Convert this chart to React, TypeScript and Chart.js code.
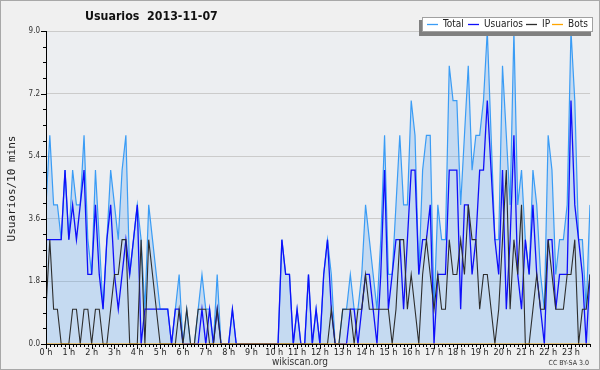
import React, { useEffect, useRef } from "react";
import { Chart, registerables } from "chart.js";

Chart.register(...registerables);

const titleText = "Usuarios  2013-11-07";
const yAxisTitle = "Usuarios/10 mins";
const footerText = "wikiscan.org";
const licenseText = "CC BY-SA 3.0";

const hourLabels = [
  "0 h", "1 h", "2 h", "3 h", "4 h", "5 h", "6 h", "7 h", "8 h", "9 h", "10 h", "11 h",
  "12 h", "13 h", "14 h", "15 h", "16 h", "17 h", "18 h", "19 h", "20 h", "21 h", "22 h", "23 h",
];
const yTickLabels = ["0.0", "1.8", "3.6", "5.4", "7.2", "9.0"];
const seriesNames = ["Total", "Usuarios", "IP", "Bots"];

// one value per 10 minutes (144 slots)
const total = [
  4, 6, 4, 4, 3, 5, 3, 5, 4, 4, 6, 3,
  2, 5, 3, 1, 3, 5, 4, 3, 5, 6, 2, 3,
  4, 3, 1, 4, 3, 2, 1, 1, 1, 0, 1, 2,
  0, 1, 0, 0, 1, 2, 1, 1, 0, 2, 0, 0,
  0, 1, 0, 0, 0, 0, 0, 0, 0, 0, 0, 0,
  0, 0, 3, 2, 2, 0, 1, 0, 0, 2, 0, 1,
  0, 2, 3, 2, 0, 0, 1, 1, 2, 1, 1, 2,
  4, 3, 2, 1, 3, 6, 2, 2, 4, 6, 4, 4,
  7, 6, 2, 5, 6, 6, 1, 4, 3, 3, 8, 7,
  7, 4, 6, 8, 5, 6, 6, 7, 9, 6, 3, 3,
  8, 6, 4, 9, 4, 5, 3, 2, 5, 4, 2, 1,
  6, 5, 2, 3, 3, 4, 9, 7, 3, 3, 1, 4,
];
const usuarios = [
  3, 3, 3, 3, 3, 5, 3, 4, 3, 4, 5, 2,
  2, 4, 2, 1, 3, 4, 2, 1, 2, 3, 2, 3,
  4, 0, 1, 1, 1, 1, 1, 1, 1, 0, 1, 1,
  0, 0, 0, 0, 0, 1, 0, 1, 0, 1, 0, 0,
  0, 1, 0, 0, 0, 0, 0, 0, 0, 0, 0, 0,
  0, 0, 3, 2, 2, 0, 1, 0, 0, 2, 0, 1,
  0, 2, 3, 1, 0, 0, 0, 0, 1, 1, 0, 1,
  2, 2, 1, 0, 2, 5, 1, 2, 3, 3, 1, 3,
  5, 5, 2, 3, 3, 4, 0, 2, 2, 2, 5, 5,
  5, 1, 4, 4, 2, 3, 5, 5, 7, 5, 3, 2,
  5, 1, 3, 6, 2, 1, 3, 2, 4, 2, 1, 0,
  3, 3, 1, 2, 2, 2, 7, 4, 3, 2, 0, 2,
];
const ip = [
  1, 3, 1, 1, 0, 0, 0, 1, 1, 0, 1, 1,
  0, 1, 1, 0, 0, 1, 2, 2, 3, 3, 0, 0,
  0, 3, 0, 3, 2, 1, 0, 0, 0, 0, 0, 1,
  0, 1, 0, 0, 1, 1, 1, 0, 0, 1, 0, 0,
  0, 0, 0, 0, 0, 0, 0, 0, 0, 0, 0, 0,
  0, 0, 0, 0, 0, 0, 0, 0, 0, 0, 0, 0,
  0, 0, 0, 1, 0, 0, 1, 1, 1, 0, 1, 1,
  2, 1, 1, 1, 1, 1, 1, 0, 1, 3, 3, 1,
  2, 1, 0, 2, 3, 2, 1, 2, 1, 1, 3, 2,
  2, 3, 2, 4, 3, 3, 1, 2, 2, 1, 0, 1,
  3, 5, 1, 3, 2, 4, 0, 0, 1, 2, 1, 1,
  3, 2, 1, 1, 1, 2, 2, 3, 0, 1, 1, 2,
];
const bots = [
  0, 0, 0, 0, 0, 0, 0, 0, 0, 0, 0, 0,
  0, 0, 0, 0, 0, 0, 0, 0, 0, 0, 0, 0,
  0, 0, 0, 0, 0, 0, 0, 0, 0, 0, 0, 0,
  0, 0, 0, 0, 0, 0, 0, 0, 0, 0, 0, 0,
  0, 0, 0, 0, 0, 0, 0, 0, 0, 0, 0, 0,
  0, 0, 0, 0, 0, 0, 0, 0, 0, 0, 0, 0,
  0, 0, 0, 0, 0, 0, 0, 0, 0, 0, 0, 0,
  0, 0, 0, 0, 0, 0, 0, 0, 0, 0, 0, 0,
  0, 0, 0, 0, 0, 0, 0, 0, 0, 0, 0, 0,
  0, 0, 0, 0, 0, 0, 0, 0, 0, 0, 0, 0,
  0, 0, 0, 0, 0, 0, 0, 0, 0, 0, 0, 0,
  0, 0, 0, 0, 0, 0, 0, 0, 0, 0, 0, 0,
];

const COLORS = {
  total: "rgb(58,156,245)",
  totalFill: "rgba(60,150,240,0.22)",
  usuarios: "rgb(15,15,250)",
  ip: "rgb(45,45,45)",
  bots: "rgb(255,165,0)",
};

const SANS = '"DejaVu Sans Condensed", "DejaVu Sans", sans-serif';
const MONO = '"DejaVu Sans Mono", monospace';

const toPoints = (arr: number[]) => arr.map((v, i) => ({ x: i, y: v }));

const decorPlugin = {
  id: "decor",
  beforeDraw(chart: any) {
    const { ctx, chartArea } = chart;
    const W = chart.width;
    const H = chart.height;
    ctx.save();
    ctx.fillStyle = "#f0f0f0";
    ctx.fillRect(0, 0, W, H);
    ctx.strokeStyle = "#a8a8a8";
    ctx.lineWidth = 1;
    ctx.strokeRect(0.5, 0.5, W - 1, H - 1);
    ctx.fillStyle = "#eceef1";
    ctx.fillRect(chartArea.left, chartArea.top, chartArea.right - chartArea.left, chartArea.bottom - chartArea.top);
    ctx.restore();
  },
  afterDraw(chart: any) {
    const { ctx, chartArea } = chart;
    const xs = chart.scales.x;
    const ys = chart.scales.y;
    const L = chartArea.left;
    const B = chartArea.bottom;
    ctx.save();

    // axes
    ctx.strokeStyle = "#000";
    ctx.lineWidth = 1;
    ctx.beginPath();
    ctx.moveTo(Math.round(L) + 0.5, chartArea.top);
    ctx.lineTo(Math.round(L) + 0.5, Math.round(B) + 0.5);
    ctx.lineTo(chartArea.right, Math.round(B) + 0.5);
    ctx.stroke();

    // y ticks (major at labels, 3 minor between)
    ctx.beginPath();
    for (let k = 0; k < yTickLabels.length; k++) {
      const v0 = parseFloat(yTickLabels[k]);
      const py = Math.round(ys.getPixelForValue(v0)) + 0.5;
      ctx.moveTo(L - 5, py);
      ctx.lineTo(L, py);
      if (k < yTickLabels.length - 1) {
        const v1 = parseFloat(yTickLabels[k + 1]);
        for (let m = 1; m < 4; m++) {
          const pm = Math.round(ys.getPixelForValue(v0 + ((v1 - v0) * m) / 4)) + 0.5;
          ctx.moveTo(L - 3, pm);
          ctx.lineTo(L, pm);
        }
      }
    }
    // x ticks: each 10-minute slot, longer at hours
    for (let i = 0; i < total.length; i++) {
      const px = Math.round(xs.getPixelForValue(i)) + 0.5;
      ctx.moveTo(px, B);
      ctx.lineTo(px, B + (i % 6 === 0 ? 5 : 3));
    }
    ctx.stroke();

    // y tick labels
    ctx.fillStyle = "#333";
    ctx.font = `8px ${SANS}`;
    ctx.textAlign = "right";
    ctx.textBaseline = "middle";
    yTickLabels.forEach((t) => {
      ctx.fillText(t, L - 6, ys.getPixelForValue(parseFloat(t)));
    });

    // x tick labels
    ctx.font = `9px ${SANS}`;
    ctx.fillStyle = "#222";
    ctx.textAlign = "center";
    ctx.textBaseline = "top";
    hourLabels.forEach((t, h) => {
      ctx.fillText(t, xs.getPixelForValue(h * 6), B + 4);
    });

    // y axis title
    ctx.save();
    ctx.translate(12, (chartArea.top + B) / 2 + 1);
    ctx.rotate(-Math.PI / 2);
    ctx.font = `11px ${MONO}`;
    ctx.fillStyle = "#222";
    ctx.textAlign = "center";
    ctx.textBaseline = "middle";
    ctx.fillText(yAxisTitle, 0, 0);
    ctx.restore();

    // title
    ctx.font = `bold 12.3px ${SANS}`;
    ctx.fillStyle = "#111";
    ctx.textAlign = "left";
    ctx.textBaseline = "middle";
    ctx.fillText(titleText, 85, 16.5);

    // footer
    ctx.font = `10px ${SANS}`;
    ctx.fillStyle = "#333";
    ctx.textAlign = "center";
    ctx.fillText(footerText, 300, 362);
    ctx.font = `7px ${SANS}`;
    ctx.textAlign = "right";
    ctx.fillText(licenseText, 589, 363);

    // legend
    ctx.fillStyle = "#808080";
    ctx.fillRect(419, 20, 172, 16);
    ctx.fillStyle = "#ffffff";
    ctx.fillRect(422, 17, 171, 15);
    ctx.strokeStyle = "#a0a0a0";
    ctx.strokeRect(422.5, 17.5, 170, 14);
    const entries = [
      { name: seriesNames[0], color: COLORS.total, lx: 427, tx: 443 },
      { name: seriesNames[1], color: COLORS.usuarios, lx: 468, tx: 484 },
      { name: seriesNames[2], color: COLORS.ip, lx: 526, tx: 542 },
      { name: seriesNames[3], color: COLORS.bots, lx: 552, tx: 568 },
    ];
    ctx.font = `10px ${SANS}`;
    ctx.textAlign = "left";
    ctx.textBaseline = "middle";
    entries.forEach((e) => {
      ctx.strokeStyle = e.color;
      ctx.lineWidth = 1.3;
      ctx.beginPath();
      ctx.moveTo(e.lx, 24.5);
      ctx.lineTo(e.lx + 11, 24.5);
      ctx.stroke();
      ctx.fillStyle = "#222";
      ctx.fillText(e.name, e.tx, 24.5);
    });

    ctx.restore();
  },
};

export default function App() {
  const ref = useRef<HTMLCanvasElement | null>(null);
  useEffect(() => {
    if (!ref.current) return;
    const chart = new Chart(ref.current, {
      type: "line",
      data: {
        datasets: [
          {
            label: seriesNames[0],
            data: toPoints(total),
            borderColor: COLORS.total,
            backgroundColor: COLORS.totalFill,
            fill: "origin",
            borderWidth: 1.2,
            order: 4,
          },
          {
            label: seriesNames[1],
            data: toPoints(usuarios),
            borderColor: COLORS.usuarios,
            borderWidth: 1.3,
            fill: false,
            order: 3,
          },
          {
            label: seriesNames[2],
            data: toPoints(ip),
            borderColor: COLORS.ip,
            borderWidth: 1.1,
            fill: false,
            order: 2,
          },
          {
            label: seriesNames[3],
            data: toPoints(bots),
            borderColor: COLORS.bots,
            borderWidth: 1,
            fill: false,
            order: 1,
          },
        ],
      } as any,
      options: {
        animation: false,
        responsive: false,
        devicePixelRatio: 1,
        layout: { padding: { top: 31, right: 10, left: 0, bottom: 0 } },
        plugins: {
          legend: { display: false },
          title: { display: false },
          tooltip: { enabled: false },
        },
        elements: { point: { radius: 0 }, line: { tension: 0 } },
        scales: {
          x: {
            type: "linear",
            min: 0,
            max: total.length - 1,
            grid: { display: false },
            border: { display: false },
            ticks: { display: false },
            afterFit: (s: any) => {
              s.height = 26;
            },
          },
          y: {
            min: 0,
            max: 9,
            ticks: { display: false, stepSize: 1.8 },
            grid: { color: "#cbcbcb", drawTicks: false, lineWidth: 1 },
            border: { display: false },
            afterFit: (s: any) => {
              s.width = 46;
            },
          },
        },
      } as any,
      plugins: [decorPlugin],
    });
    return () => chart.destroy();
  }, []);
  return (
    <div style={{ position: "absolute", left: 0, top: 0, width: 600, height: 370 }}>
      <canvas ref={ref} width={600} height={370} style={{ width: 600, height: 370, display: "block" }} />
    </div>
  );
}
